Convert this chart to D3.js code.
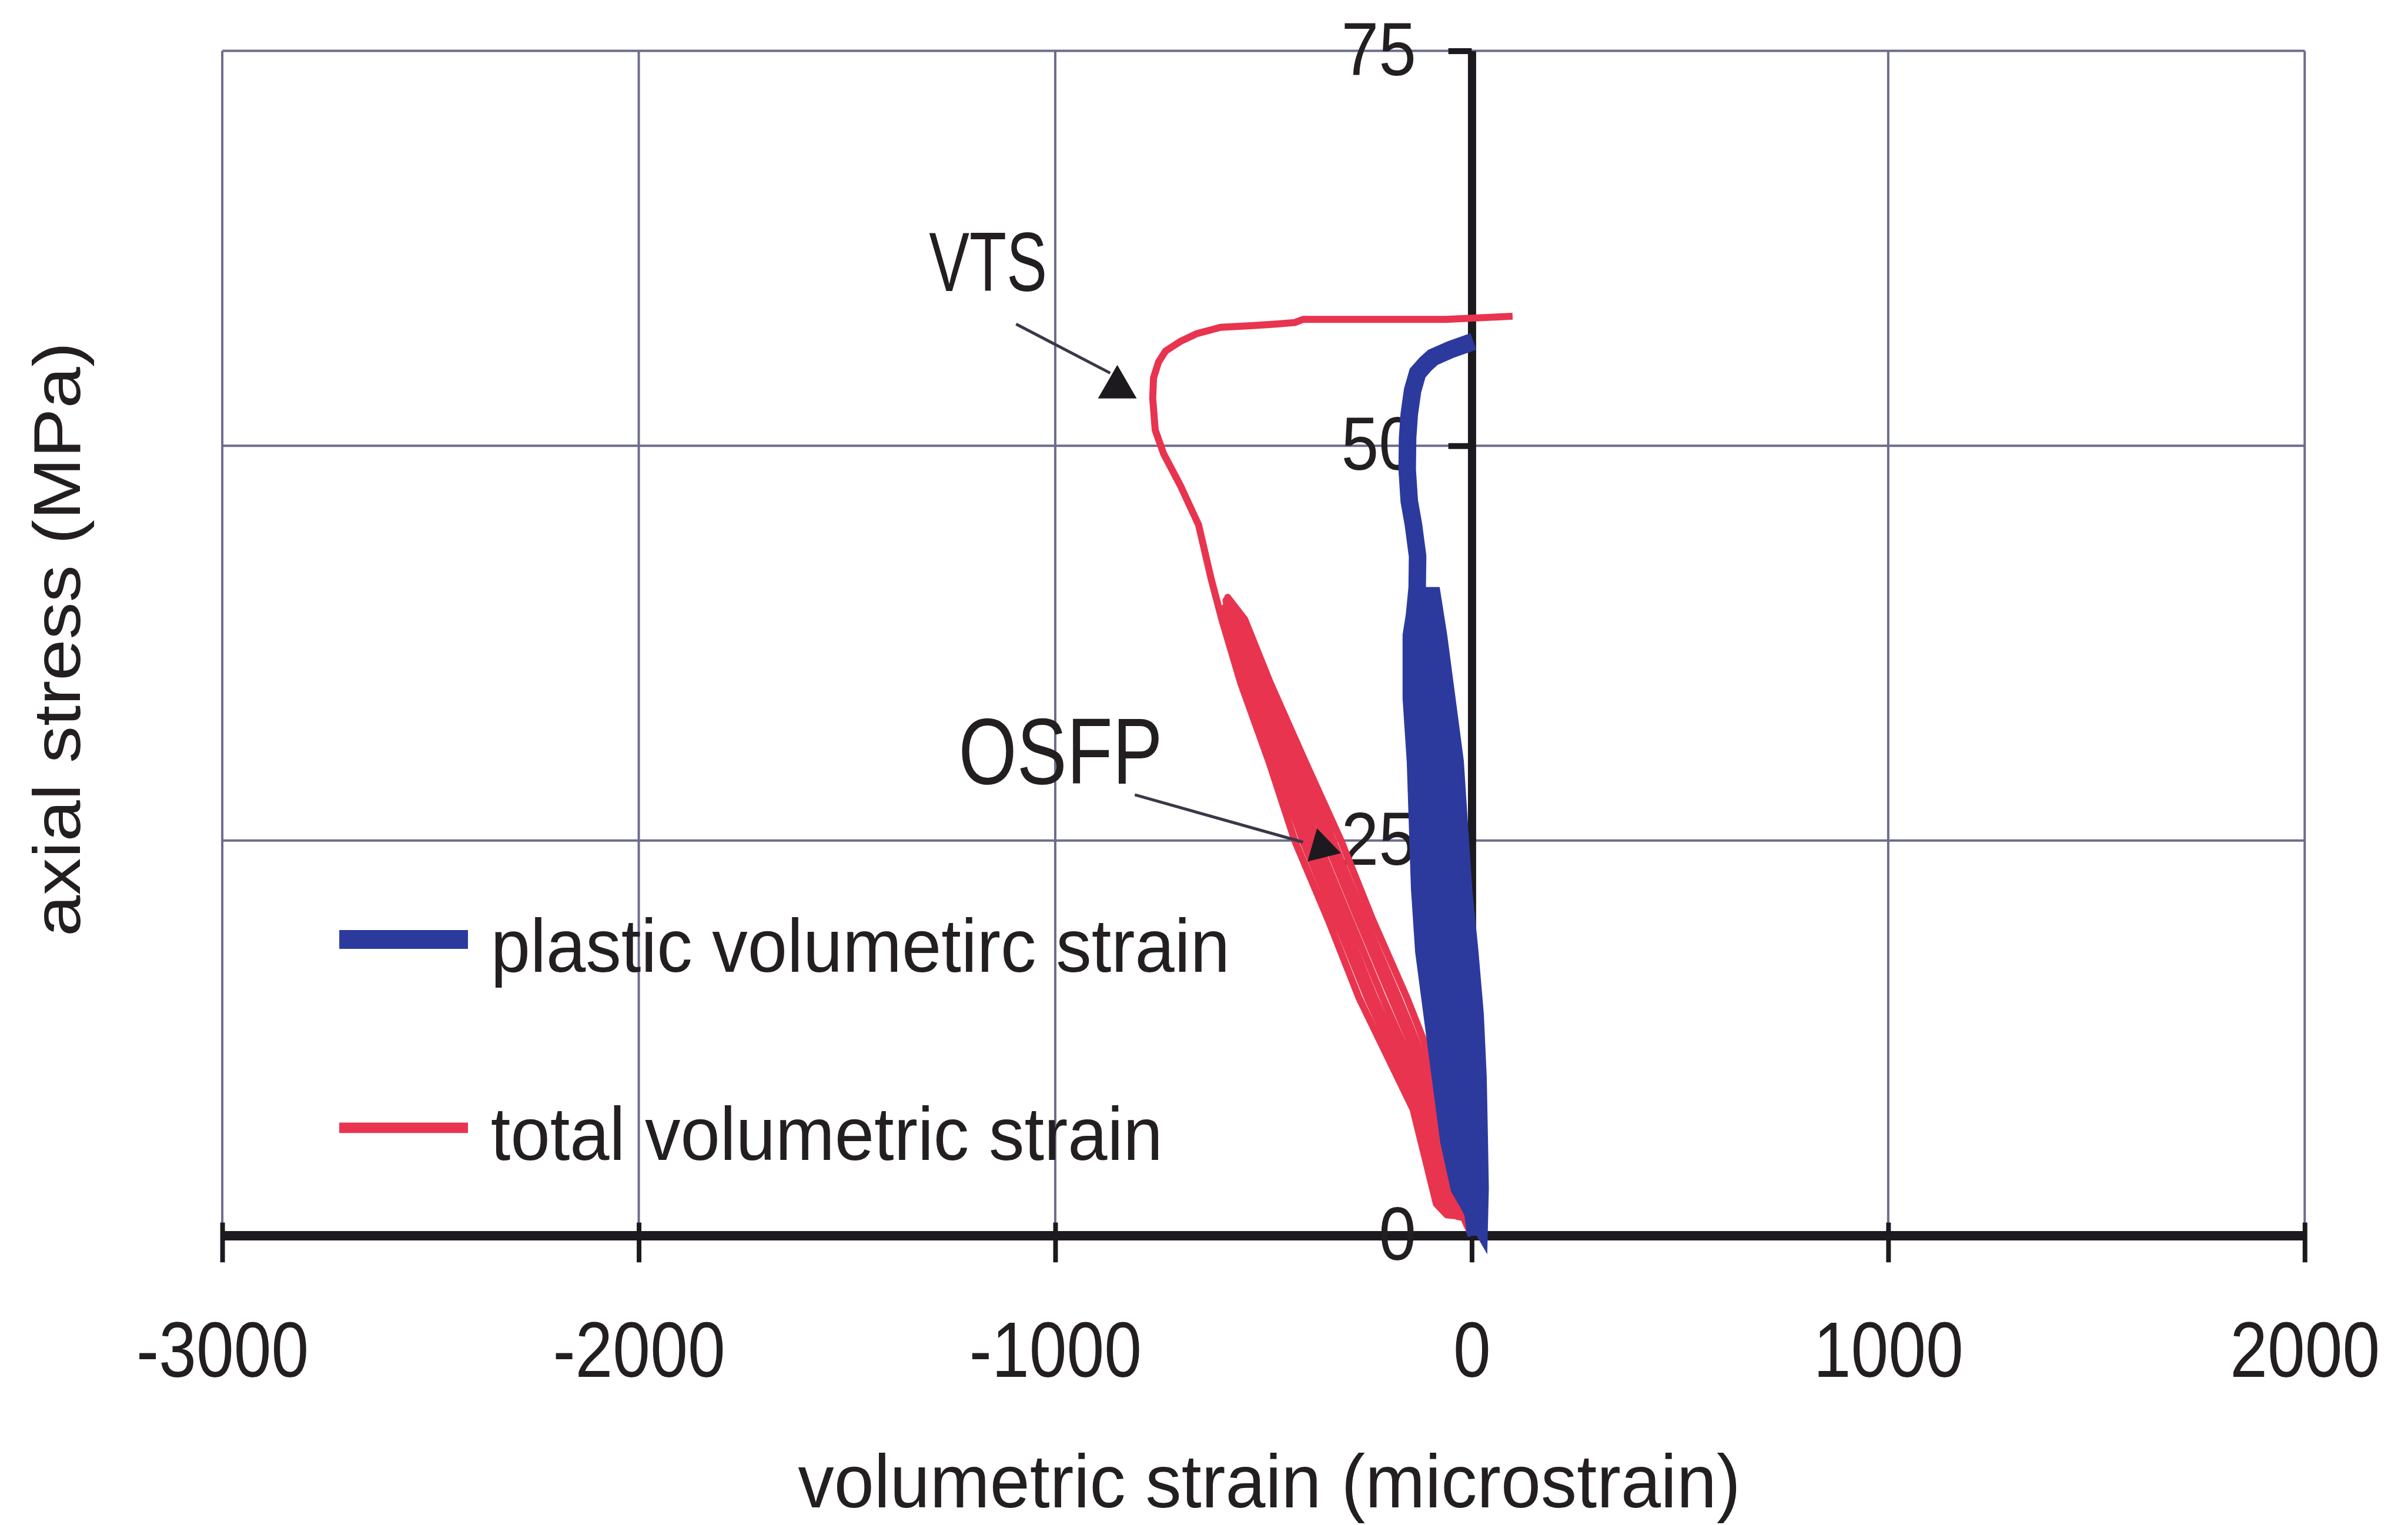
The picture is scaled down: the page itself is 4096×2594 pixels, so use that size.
<!DOCTYPE html>
<html>
<head>
<meta charset="utf-8">
<script src="https://cdn.jsdelivr.net/npm/d3@7"></script>
<style>
  html, body { margin: 0; padding: 0; background: #fff; }
  svg { display: block; }
  text { font-family: "Liberation Sans", Arial, sans-serif; fill: #231f20; }
</style>
</head>
<body>
<div id="chart"></div>
<script>
// tick values
const xTicks = [-3000, -2000, -1000, 0, 1000, 2000];
const yTicks = [0, 25, 50, 75];

// plastic volumetric strain (microstrain, MPa)
const plasticVol = [
  [10, 0], [-5, 3], [-20, 6], [-35, 10], [-50, 14], [-70, 18], [-85, 22], [-95, 26], [-100, 30], [-110, 34], [-120, 38], [-110, 40.5],
  [-95, 40.5], [-80, 38], [-60, 34], [-40, 30], [-30, 26], [-20, 22], [-5, 18], [8, 14], [15, 10], [18, 6], [20, 3], [18, 0.8],
  [-30, 3], [-55, 6], [-75, 10], [-95, 14], [-115, 18], [-125, 22], [-130, 26], [-135, 30], [-145, 34], [-145, 38], [-130, 40.5],
  [-102, 40], [-100, 38], [-85, 34], [-70, 30], [-62, 26], [-52, 22], [-38, 18], [-21, 14], [-10, 10], [0, 6], [8, 3], [10, 1],
  [-25, 3], [-50, 6], [-70, 10], [-90, 14], [-110, 18], [-122, 22], [-128, 26], [-132, 30], [-140, 34], [-142, 38], [-131, 41],
  [-130, 43], [-140, 45], [-150, 46.5], [-155, 48.5], [-154, 50.5], [-150, 52], [-142, 53.5], [-130, 54.6],
  [-110, 55.2], [-93, 55.6], [-50, 56.1], [4, 56.6]
];

// total volumetric strain
const totalVol = [
  [0, 0], [-35, 2], [-96, 8], [-213, 15], [-292, 20], [-370, 25], [-444, 30], [-520, 35], [-573, 39], [-586, 40.4],
  [-545, 39], [-484, 35], [-400, 30], [-314, 25], [-238, 20], [-155, 15], [-50, 8], [15, 2], [10, 0.8],
  [-40, 1.3], [-52, 2], [-111, 8], [-232, 15], [-310, 20], [-388, 25], [-458, 30], [-532, 35], [-582, 39], [-590, 40.2],
  [-554, 39.2], [-496, 35], [-415, 30], [-333, 25], [-256, 20], [-175, 15], [-66, 8], [-2, 2], [0, 1],
  [-50, 1.3], [-68, 2], [-126, 8], [-250, 15], [-327, 20], [-406, 25], [-472, 30], [-543, 35], [-591, 39], [-592, 39.8],
  [-563, 39.3], [-507, 35], [-429, 30], [-351, 25], [-273, 20], [-193, 15], [-80, 8], [-18, 2], [-15, 1.2],
  [-60, 1.3], [-85, 2], [-141, 8], [-270, 15], [-345, 20], [-425, 25], [-487, 30], [-555, 35], [-600, 39],
  [-625, 41.5], [-656, 45], [-700, 47.5], [-740, 49.5], [-760, 51], [-766, 53], [-764, 54.3], [-752, 55.3],
  [-735, 56], [-700, 56.6], [-660, 57.1], [-603, 57.5], [-530, 57.6], [-470, 57.7], [-425, 57.8], [-405, 58],
  [-250, 58], [-62, 58], [98, 58.2]
];

const seriesNames = ['plastic volumetirc strain', 'total volumetric strain'];
const seriesColors = ['#2c3a9e', '#e8344f'];

// annotation labels, arrows in data units
const noteLabels = ['VTS', 'OSFP'];
const noteTextAt = [[-1303, 59.8], [-1232, 28.6]];
const noteFrom = [[-1094, 57.7], [-809, 27.9]];
const noteTo = [[-868, 54.6], [-405, 24.9]];
const noteHead = [[-851, 53.7], [-360, 24.55]];

const W = 4096, H = 2594, k = 0.995;

const svg = d3.select('#chart').append('svg')
  .attr('width', W)
  .attr('height', H);

svg.append('rect').attr('width', W).attr('height', H).attr('fill', '#fff');

// work in reference pixels, scaled down to the window
const g = svg.append('g').attr('transform', `scale(${k})`);

const x = d3.scaleLinear().domain([-3000, 2000]).range([380, 3940]);
const y = d3.scaleLinear().domain([0, 75]).range([2112, 87]);

function squeeze(sel, f) {
  sel.each(function() {
    const t = d3.select(this);
    const tx = +t.attr('x') || 0, ty = +t.attr('y') || 0;
    t.attr('x', null).attr('y', null)
      .attr('transform', `translate(${tx},${ty}) scale(${f},1)`);
  });
}

// grid
g.append('g').selectAll('line').data(xTicks).join('line')
  .attr('x1', d => x(d)).attr('x2', d => x(d))
  .attr('y1', y(75)).attr('y2', y(0))
  .attr('stroke', '#6c6c8c').attr('stroke-width', 4);

g.append('g').selectAll('line').data(yTicks).join('line')
  .attr('x1', x(-3000)).attr('x2', x(2000))
  .attr('y1', d => y(d)).attr('y2', d => y(d))
  .attr('stroke', '#6c6c8c').attr('stroke-width', 4);

// axes
const xAxis = g.append('g')
  .attr('transform', `translate(0,${y(0)})`)
  .call(d3.axisBottom(x).tickValues(xTicks).tickSize(46).tickSizeOuter(0).tickPadding(101)
    .tickFormat(d => String(d)));

xAxis.select('.domain').attr('stroke', '#1c1a1e').attr('stroke-width', 16);
xAxis.selectAll('.tick line').attr('y1', -22).attr('stroke', '#1c1a1e').attr('stroke-width', 8);
xAxis.selectAll('.tick text').attr('font-size', 134).attr('fill', '#231f20')
  .attr('font-family', '"Liberation Sans", Arial, sans-serif').call(squeeze, 0.86);

const yAxis = g.append('g')
  .attr('transform', `translate(${x(0)},0)`)
  .call(d3.axisLeft(y).tickValues(yTicks).tickSize(40).tickSizeOuter(0).tickPadding(55)
    .tickFormat(d => String(d)));

yAxis.select('.domain').attr('stroke', '#1c1a1e').attr('stroke-width', 14);
yAxis.selectAll('.tick line').attr('stroke', '#1c1a1e').attr('stroke-width', 10);
yAxis.selectAll('.tick text').attr('font-size', 128).attr('fill', '#231f20')
  .attr('font-family', '"Liberation Sans", Arial, sans-serif').call(squeeze, 0.9);

// series
const line = d3.line().x(d => x(d[0])).y(d => y(d[1]));

g.append('path').datum(totalVol)
  .attr('d', line)
  .attr('fill', 'none')
  .attr('stroke', seriesColors[1])
  .attr('stroke-width', 12)
  .attr('stroke-linejoin', 'round');

g.append('path').datum(plasticVol)
  .attr('d', line)
  .attr('fill', 'none')
  .attr('stroke', seriesColors[0])
  .attr('stroke-width', 30)
  .attr('stroke-linejoin', 'miter');

// annotations
noteLabels.forEach((label, i) => {
  g.append('line')
    .attr('x1', x(noteFrom[i][0])).attr('y1', y(noteFrom[i][1]))
    .attr('x2', x(noteTo[i][0])).attr('y2', y(noteTo[i][1]))
    .attr('stroke', '#3a3848').attr('stroke-width', 5);

  const ang = i === 0 ? 0 : 106;
  g.append('path')
    .attr('d', d3.symbol(d3.symbolTriangle).size(i === 0 ? 1900 : 1500)())
    .attr('transform', `translate(${x(noteHead[i][0])},${y(noteHead[i][1])}) rotate(${ang})`)
    .attr('fill', '#1c1a1e');

  g.append('text')
    .attr('x', x(noteTextAt[i][0])).attr('y', y(noteTextAt[i][1]))
    .attr('font-size', i === 0 ? 144 : 160)
    .text(label)
    .call(squeeze, i === 0 ? 0.72 : 0.8);
});

// legend
const legend = g.append('g');
const legendY = [1606, 1928];
const legendW = [32, 18];
seriesNames.forEach((name, i) => {
  legend.append('line')
    .attr('x1', 580).attr('x2', 800)
    .attr('y1', legendY[i]).attr('y2', legendY[i])
    .attr('stroke', seriesColors[i]).attr('stroke-width', legendW[i]);
  legend.append('text')
    .attr('x', 839).attr('y', legendY[i] + 55)
    .attr('font-size', 128)
    .text(name)
    .call(squeeze, 0.95);
});

// axis titles
g.append('text')
  .attr('x', 2170).attr('y', 2577)
  .attr('text-anchor', 'middle')
  .attr('font-size', 128)
  .text('volumetric strain (microstrain)')
  .call(squeeze, 0.96);

g.append('text')
  .attr('transform', 'translate(137,1093) rotate(-90) scale(1,0.9)')
  .attr('text-anchor', 'middle')
  .attr('font-size', 127)
  .text('axial stress (MPa)');
</script>
</body>
</html>
